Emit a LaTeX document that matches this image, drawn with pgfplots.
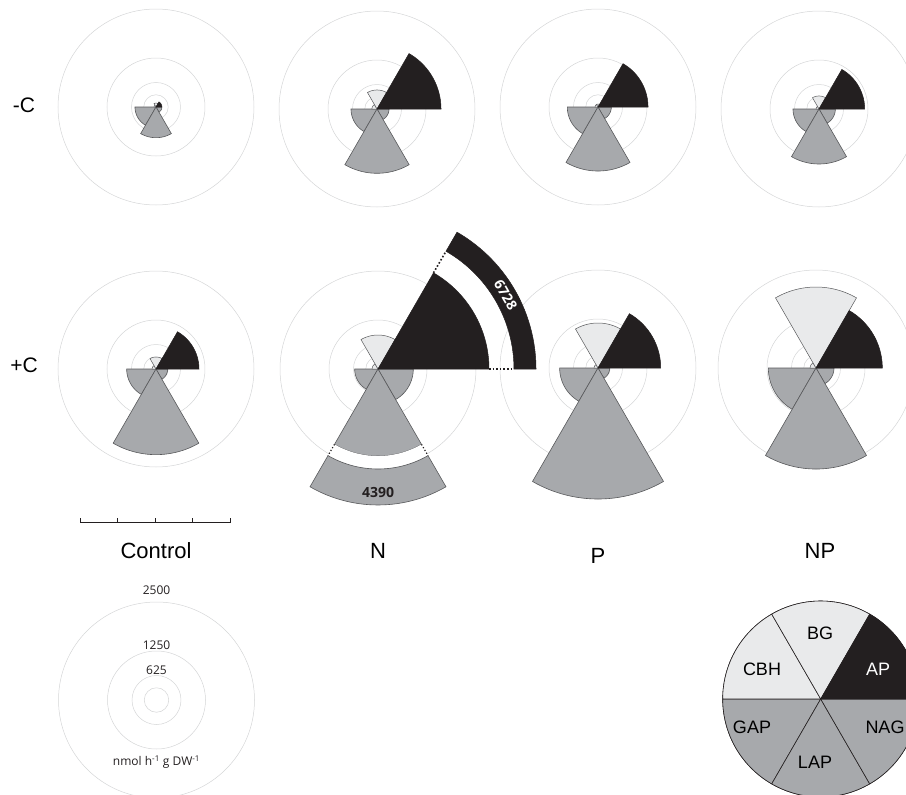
\documentclass[border=0pt]{standalone}
\usepackage{pgfplots}
\pgfplotsset{compat=1.18}
\usepgfplotslibrary{polar}
\usepackage{fontspec}
\setmainfont{Liberation Sans}
\newfontfamily\myr{Open Sans}

\definecolor{apc}{HTML}{231F20}
\definecolor{grc}{HTML}{A7A9AC}
\definecolor{ltc}{HTML}{E9EAEB}
\definecolor{edgec}{HTML}{58595B}
\definecolor{circc}{HTML}{D4D5D6}

\pgfplotsset{
  rose/.style={
    scale only axis, width=196pt, height=196pt,
    ymin=0, ymax=2500, xmin=0, xmax=360,
    xtick=\empty, ytick={312.5,625,1250}, yticklabels={},
    major tick length=0pt,
    ymajorgrids, grid style={circc, line width=0.5pt},
    separate axis lines,
    x axis line style={circc, line width=0.5pt},
    y axis line style={draw=none},
    clip=false, anchor=center,
  },
  apS/.style={fill=apc, draw=apc, line width=0.5pt},
  grS/.style={fill=grc, draw=edgec, line width=0.6pt},
  ltS/.style={fill=ltc, draw=edgec, line width=0.5pt},
}

% sector: #1 style, #2 start angle, #3 value
\newcommand\sector[3]{%
  \gdef\pts{(0,0)}%
  \foreach \k in {0,2,...,60}{\pgfmathtruncatemacro\ang{#2+\k}\xdef\pts{\pts (\ang,#3)}}%
  \edef\doplot{\noexpand\addplot[\unexpanded{#1}] coordinates {\pts} -- cycle;}%
  \doplot
}
% band: #1 style, #2 start angle, #3 inner value, #4 outer value
\newcommand\band[4]{%
  \gdef\pts{}%
  \foreach \k in {0,2,...,60}{\pgfmathtruncatemacro\ang{#2+\k}\xdef\pts{\pts (\ang,#4)}}%
  \foreach \k in {60,58,...,0}{\pgfmathtruncatemacro\ang{#2+\k}\xdef\pts{\pts (\ang,#3)}}%
  \edef\doplot{\noexpand\addplot[\unexpanded{#1}] coordinates {\pts} -- cycle;}%
  \doplot
}
% rose: x, y, AP, BG, CBH, GAP, LAP, NAG
\newcommand\rose[8]{%
  \begin{polaraxis}[rose, at={(#1pt,-#2pt)}]
    \sector{grS}{180}{#6}
    \sector{grS}{300}{#8}
    \sector{grS}{240}{#7}
    \sector{ltS}{120}{#5}
    \sector{ltS}{60}{#4}
    \sector{apS}{0}{#3}
  \end{polaraxis}%
}

\begin{document}
\begin{tikzpicture}
\useasboundingbox (0,0) rectangle (906pt,-795pt);

\node[font=\fontsize{21}{24}\selectfont, inner sep=0pt] at (24pt,-105pt) {-C};
\node[font=\fontsize{21}{24}\selectfont, inner sep=0pt] at (24pt,-365pt) {+C};

% -C row
\rose{156}{107}{150}{100}{50}{536}{783}{150}
\rose{377}{109}{1633}{485}{130}{663}{1640}{306}
\rose{598}{107}{1276}{75}{75}{783}{1633}{340}
\rose{819}{109}{1165}{332}{75}{663}{1403}{417}
% +C row
\rose{156}{369}{1097}{306}{100}{748}{2185}{298}
\rose{598}{368}{1600}{1148}{100}{978}{3342}{298}
\rose{816}{368}{1692}{2066}{150}{1216}{2577}{459}
% N +C with broken AP and LAP
\begin{polaraxis}[rose, at={(378pt,-369pt)}]
  \sector{grS}{180}{595}
  \sector{grS}{300}{900}
  \sector{grS}{240}{2220}
  \band{fill=white, draw=none}{240}{2220}{2551}
  \band{grS}{240}{2551}{3469}
  \addplot[apc, dotted, line width=1.2pt] coordinates {(240,2220) (240,2551)};
  \addplot[apc, dotted, line width=1.2pt] coordinates {(300,2220) (300,2551)};
  \sector{ltS}{120}{150}
  \sector{ltS}{60}{867}
  \sector{apS}{0}{2832}
  \band{apS}{0}{3469}{4031}
  \addplot[apc, dotted, line width=1.6pt] coordinates {(0,2832) (0,3469)};
  \addplot[apc, dotted, line width=1.6pt] coordinates {(60,2832) (60,3469)};
  \node[font=\myr\bfseries\fontsize{14}{16}\selectfont, text=white, rotate=-60, inner sep=0pt] at (axis cs:30,3760) {6728};
  \node[font=\myr\bfseries\fontsize{14}{16}\selectfont, text=apc, inner sep=0pt] at (axis cs:270,3160) {4390};
\end{polaraxis}

% scale bar
\begin{axis}[at={(80pt,-522.5pt)}, anchor=south west, scale only axis,
  width=150pt, height=8pt, xmin=0, xmax=4, ymin=0, ymax=1,
  axis x line*=bottom, axis y line=none, xtick={0,1,2,3,4}, xticklabels={},
  ytick=\empty, tick align=inside, major tick length=5pt,
  x axis line style={-, line width=1.2pt, apc}, tick style={line width=1pt, apc}]
  \addplot[draw=none] coordinates {(0,0) (4,0)};
\end{axis}

% column labels
\node[font=\fontsize{22}{26}\selectfont, inner sep=0pt] at (156pt,-551pt) {Control};
\node[font=\fontsize{22}{26}\selectfont, inner sep=0pt] at (378pt,-551pt) {N};
\node[font=\fontsize{22}{26}\selectfont, inner sep=0pt] at (598pt,-556pt) {P};
\node[font=\fontsize{22}{26}\selectfont, inner sep=0pt] at (820pt,-551pt) {NP};

% scale legend
\begin{polaraxis}[rose, at={(156.5pt,-700pt)}]
  \addplot[draw=none] coordinates {(0,0)};
\end{polaraxis}
\node[font=\myr\fontsize{12}{14}\selectfont, text=apc, inner sep=0pt] at (156.5pt,-590pt) {2500};
\node[font=\myr\fontsize{12}{14}\selectfont, text=apc, inner sep=0pt] at (156.5pt,-645pt) {1250};
\node[font=\myr\fontsize{12}{14}\selectfont, text=apc, inner sep=0pt] at (156.5pt,-670pt) {625};
\node[font=\myr\fontsize{12}{14}\selectfont, text=apc, inner sep=0pt] at (156.5pt,-762pt) {nmol h\textsuperscript{-1} g DW\textsuperscript{-1}};

% enzyme legend pie
\begin{polaraxis}[rose, at={(820.7pt,-699pt)}, ytick=\empty, ymajorgrids=false,
   x axis line style={apc, line width=0.6pt}]
  \sector{fill=grc, draw=apc, line width=0.6pt}{180}{2500}
  \sector{fill=grc, draw=apc, line width=0.6pt}{240}{2500}
  \sector{fill=grc, draw=apc, line width=0.6pt}{300}{2500}
  \sector{fill=ltc, draw=apc, line width=0.6pt}{120}{2500}
  \sector{fill=ltc, draw=apc, line width=0.6pt}{60}{2500}
  \sector{fill=apc, draw=apc, line width=0.6pt}{0}{2500}
\end{polaraxis}
\node[font=\fontsize{18}{21}\selectfont, inner sep=0pt] at (820pt,-633pt) {BG};
\node[font=\fontsize{18}{21}\selectfont, inner sep=0pt] at (762pt,-669pt) {CBH};
\node[font=\fontsize{18}{21}\selectfont, inner sep=0pt, text=white] at (878pt,-669pt) {AP};
\node[font=\fontsize{18}{21}\selectfont, inner sep=0pt] at (752pt,-727pt) {GAP};
\node[font=\fontsize{18}{21}\selectfont, inner sep=0pt] at (885pt,-727pt) {NAG};
\node[font=\fontsize{18}{21}\selectfont, inner sep=0pt] at (815pt,-762pt) {LAP};
\end{tikzpicture}
\end{document}
